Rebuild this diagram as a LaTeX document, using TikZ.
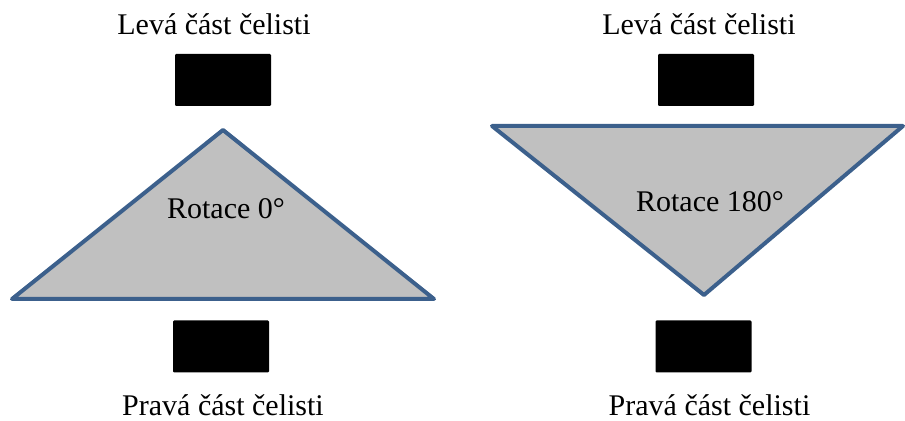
\documentclass[tikz,border=0pt]{standalone}
\usepackage{fontspec}
\setmainfont{Liberation Serif}
\usepackage{tikz}
\usetikzlibrary{positioning}
\definecolor{steelblue}{RGB}{60, 96, 140}
\definecolor{jawgrey}{RGB}{192, 192, 192}

\begin{document}
\begin{tikzpicture}[
  x=0.5pt, y=-0.5pt,
  font=\fontsize{15}{18}\selectfont,
  jaw/.style={rectangle, rounded corners=0.6pt, fill=black, draw=none,
    minimum width=48pt, minimum height=26pt, inner sep=0pt},
  lbl/.style={anchor=base, inner sep=0pt},
  part/.style={draw=steelblue, fill=jawgrey, line width=2pt, line join=round}
]
\useasboundingbox (0,0) rectangle (905,421);

% rotace 0
\node[lbl] (levaL) at (214,35) {Levá část čelisti};
\node[jaw] (jawTL) at (223,80) {};
\coordinate (apexL) at (223,130);
\coordinate (cornerLL) at (12,299);
\coordinate (cornerLR) at (434,299);
\draw[part] (apexL) -- (cornerLR) -- (cornerLL) -- cycle;
\node[lbl] (rotL) at (226,219) {Rotace 0°};
\node[jaw] (jawBL) at (221,346.5) {};
\node[lbl] (pravaL) at (223,416) {Pravá část čelisti};

% rotace 180
\node[lbl] (levaR) at (699,35) {Levá část čelisti};
\node[jaw] (jawTR) at (706,80) {};
\coordinate (apexR) at (704,295);
\coordinate (cornerRL) at (492,126);
\coordinate (cornerRR) at (903,126);
\draw[part] (cornerRL) -- (cornerRR) -- (apexR) -- cycle;
\node[lbl] (rotR) at (710,212) {Rotace 180°};
\node[jaw] (jawBR) at (703.5,346.5) {};
\node[lbl] (pravaR) at (709.5,416) {Pravá část čelisti};

\end{tikzpicture}
\end{document}
